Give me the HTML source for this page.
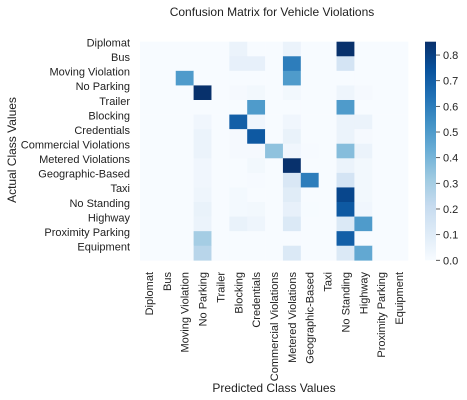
<!DOCTYPE html>
<html><head><meta charset="utf-8"><style>
body{margin:0;background:#fff}
svg{display:block;font-family:"Liberation Sans",sans-serif}
</style></head><body>
<svg id="c" width="467" height="400">
<text x="272" y="16" text-anchor="middle" font-size="12" fill="#222">Confusion Matrix for Vehicle Violations</text>
<text x="274" y="392" text-anchor="middle" font-size="12" fill="#222">Predicted Class Values</text>
<text transform="translate(16,150) rotate(-90)" text-anchor="middle" font-size="12" fill="#222">Actual Class Values</text>
<g id="cells"></g>
<g id="ylab"></g>
<g id="xlab"></g>
<defs><linearGradient id="cbg" x1="0" y1="1" x2="0" y2="0">
<stop offset="0" stop-color="#f7fbff"/><stop offset="0.125" stop-color="#deebf7"/><stop offset="0.25" stop-color="#c6dbef"/><stop offset="0.375" stop-color="#9ecae1"/><stop offset="0.5" stop-color="#6baed6"/><stop offset="0.625" stop-color="#4292c6"/><stop offset="0.75" stop-color="#2171b5"/><stop offset="0.875" stop-color="#08519c"/><stop offset="1" stop-color="#08306b"/></linearGradient></defs>
<rect x="425" y="41.7" width="11" height="218.6" fill="url(#cbg)"/>
<g id="cbt"></g>
</svg>
<script>
const classes=["Diplomat","Bus","Moving Violation","No Parking","Trailer","Blocking","Credentials","Commercial Violations","Metered Violations","Geographic-Based","Taxi","No Standing","Highway","Proximity Parking","Equipment"];
const matrix=[
[0,0,0,0,0,0.05,0,0,0.05,0,0,0.85,0,0,0],
[0,0,0,0,0,0.07,0.07,0,0.6,0,0,0.15,0,0,0],
[0,0,0.5,0,0,0,0,0,0.5,0,0,0,0,0,0],
[0,0,0,0.85,0,0.01,0.02,0,0.02,0,0,0.04,0.01,0,0],
[0,0,0,0,0,0,0.5,0,0,0,0,0.5,0,0,0],
[0,0,0,0.03,0,0.7,0.03,0,0.03,0,0,0.05,0.05,0,0],
[0,0,0,0.05,0,0.01,0.72,0,0.06,0,0,0.05,0.01,0,0],
[0,0,0,0.05,0,0.01,0.01,0.35,0.03,0.005,0,0.37,0.05,0,0],
[0,0,0,0.03,0,0,0.02,0,0.85,0,0,0.05,0.02,0,0],
[0,0,0,0.03,0,0,0.005,0,0.13,0.6,0,0.15,0.02,0,0],
[0,0,0,0.04,0,0.015,0,0,0.1,0,0,0.78,0.02,0,0],
[0,0,0,0.06,0,0.015,0.02,0,0.07,0.003,0,0.72,0.03,0,0],
[0,0,0,0.05,0,0.06,0.04,0,0.12,0,0,0.12,0.5,0,0],
[0,0,0,0.3,0,0,0,0,0,0,0,0.7,0,0,0],
[0,0,0,0.25,0,0,0,0,0.12,0,0,0.12,0.45,0,0]];
const cbTicks=[0,0.1,0.2,0.3,0.4,0.5,0.6,0.7,0.8];
const vmax=0.852;
const X0=140,X1=408,Y0=41.7,Y1=260.3;
const cw=(X1-X0)/classes.length,ch=(Y1-Y0)/classes.length;
const stops=["#f7fbff","#deebf7","#c6dbef","#9ecae1","#6baed6","#4292c6","#2171b5","#08519c","#08306b"].map(h=>[1,3,5].map(i=>parseInt(h.substr(i,2),16)));
function color(v){let t=Math.max(0,Math.min(1,v/vmax))*(stops.length-1);let i=Math.min(Math.floor(t),stops.length-2),f=t-i;
const c=stops[i].map((a,k)=>Math.round(a+(stops[i+1][k]-a)*f));return `rgb(${c})`;}
const NS="http://www.w3.org/2000/svg";
function mk(tag,attrs,parent){const e=document.createElementNS(NS,tag);for(const k in attrs)e.setAttribute(k,attrs[k]);parent.appendChild(e);return e;}
const cells=document.getElementById('cells'),yl=document.getElementById('ylab'),xl=document.getElementById('xlab'),cbt=document.getElementById('cbt');
matrix.forEach((row,r)=>row.forEach((v,c)=>{
 const e=mk('rect',{x:X0+c*cw,y:Y0+r*ch,width:cw+0.3,height:ch+0.3,fill:color(v)},cells);
 
 
}));
classes.forEach((n,i)=>{
 const t=mk('text',{x:130,y:Y0+(i+0.5)*ch-2.5,'text-anchor':'end','font-size':'11',fill:'#222'},yl);t.textContent=n;
 
 
 const cx=X0+(i+0.5)*cw+4;
 const u=mk('text',{transform:`translate(${cx},272) rotate(-90)`,'text-anchor':'end','font-size':'11',fill:'#222'},xl);u.textContent=n;
 
 
});
cbTicks.forEach(v=>{
 const y=Y1-(v/vmax)*(Y1-Y0);
 const l=mk('line',{x1:436,x2:440,y1:y,y2:y,stroke:'#333','stroke-width':0.8},cbt);
 
 
 const t=mk('text',{x:443,y:y+4,'font-size':'11',fill:'#222'},cbt);t.textContent=v.toFixed(1);
 
 
});
</script>
</body></html>
